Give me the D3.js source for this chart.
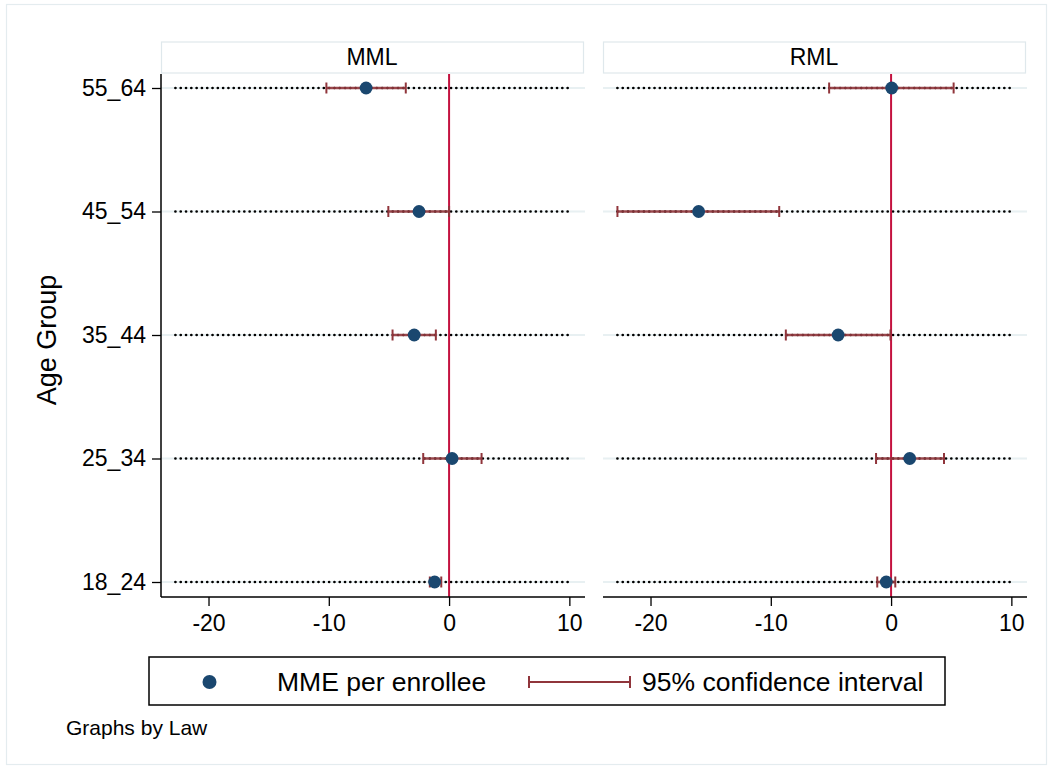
<!DOCTYPE html>
<html>
<head>
<meta charset="utf-8">
<script src="https://cdn.jsdelivr.net/npm/d3@7"></script>
<style>
  body { margin: 0; background: #fff; }
  text { font-family: "Liberation Sans", Arial, sans-serif; fill: #000; }
</style>
</head>
<body>
<svg id="chart" width="1052" height="769"></svg>
<script>
const panels = ["MML", "RML"];
const ageGroups = ["18_24", "25_34", "35_44", "45_54", "55_64"];

// estimates per age group (order of ageGroups)
const mmlEst = [-1.2, 0.25, -2.9, -2.5, -6.9];
const mmlLow = [-1.6, -2.15, -4.7, -5.05, -10.2];
const mmlHigh = [-0.65, 2.7, -1.1, 0.0, -3.6];

const rmlEst = [-0.4, 1.55, -4.4, -16.0, 0.05];
const rmlLow = [-1.15, -1.25, -8.75, -22.75, -5.15];
const rmlHigh = [0.35, 4.4, -0.05, -9.3, 5.2];

const xTicks = [-20, -10, 0, 10];
const xDomain = [-23.95, 11.3];
const dotExtent = [-22.75, 9.9];

const panelData = {
    MML: ageGroups.map((g, i) => ({ g, est: mmlEst[i], lo: mmlLow[i], hi: mmlHigh[i] })),
    RML: ageGroups.map((g, i) => ({ g, est: rmlEst[i], lo: rmlLow[i], hi: rmlHigh[i] }))
};

const navy = "#1a476f";
const maroon = "#90353b";
const refRed = "#c4123f";
const fontFam = "'Liberation Sans', Arial, sans-serif";

const svg = d3.select("#chart");

// outer frame
svg.append("rect")
    .attr("x", 6.5).attr("y", 4.5)
    .attr("width", 1040).attr("height", 760)
    .attr("fill", "none")
    .attr("stroke", "#e4ecef")
    .attr("stroke-width", 1.2);

const plotTop = 74;
const plotBottom = 597;
const panelLeft = { MML: 161, RML: 603 };
const panelW = 424;

const yScale = d3.scalePoint()
    .domain(ageGroups)
    .range([582, 88]);

panels.forEach(p => {
    const x0 = panelLeft[p];
    const xScale = d3.scaleLinear().domain(xDomain).range([x0, x0 + panelW]);
    const g = svg.append("g");

    // header strip
    g.append("rect")
        .attr("x", x0 + 0.5).attr("y", 42)
        .attr("width", panelW - 2).attr("height", 31)
        .attr("fill", "#fff")
        .attr("stroke", "#dfe8ec")
        .attr("stroke-width", 1.2);
    g.append("text")
        .attr("x", x0 + panelW / 2 - 1)
        .attr("y", 65)
        .attr("text-anchor", "middle")
        .style("font-size", "23px")
        .text(p);

    // light grid lines
    g.selectAll(".grid")
        .data(ageGroups)
        .enter()
        .append("line")
        .attr("x1", x0).attr("x2", x0 + panelW)
        .attr("y1", d => yScale(d)).attr("y2", d => yScale(d))
        .attr("stroke", "#e8f0f2")
        .attr("stroke-width", 2);

    // dotted lines
    g.selectAll(".dots")
        .data(ageGroups)
        .enter()
        .append("line")
        .attr("x1", xScale(dotExtent[0])).attr("x2", xScale(dotExtent[1]))
        .attr("y1", d => yScale(d)).attr("y2", d => yScale(d))
        .attr("stroke", "#000")
        .attr("stroke-width", 2.7)
        .attr("stroke-linecap", "round")
        .attr("stroke-dasharray", "0,5.3");

    // reference line at 0
    g.append("line")
        .attr("x1", xScale(0)).attr("x2", xScale(0))
        .attr("y1", plotTop).attr("y2", plotBottom)
        .attr("stroke", refRed)
        .attr("stroke-width", 2);

    const rows = panelData[p];

    // CI bars
    g.selectAll(".ci")
        .data(rows)
        .enter()
        .append("line")
        .attr("x1", d => xScale(d.lo)).attr("x2", d => xScale(d.hi))
        .attr("y1", d => yScale(d.g)).attr("y2", d => yScale(d.g))
        .attr("stroke", maroon)
        .attr("stroke-opacity", 0.9)
        .attr("stroke-width", 2.6);
    ["lo", "hi"].forEach(k => {
        g.selectAll(".cap-" + k)
            .data(rows)
            .enter()
            .append("line")
            .attr("x1", d => xScale(d[k])).attr("x2", d => xScale(d[k]))
            .attr("y1", d => yScale(d.g) - 5.5).attr("y2", d => yScale(d.g) + 5.5)
            .attr("stroke", maroon)
            .attr("stroke-width", 2);
    });

    // points
    g.selectAll(".pt")
        .data(rows)
        .enter()
        .append("circle")
        .attr("cx", d => xScale(d.est))
        .attr("cy", d => yScale(d.g))
        .attr("r", 6.4)
        .attr("fill", navy);

    // x axis (plain hyphen for negatives)
    const xAxis = d3.axisBottom(xScale)
        .tickValues(xTicks)
        .tickSize(9)
        .tickPadding(9)
        .tickFormat(d => String(d));
    const ax = g.append("g")
        .attr("transform", `translate(0, ${plotBottom})`)
        .call(xAxis);
    ax.select(".domain").attr("stroke", "#000").attr("stroke-width", 1.5)
        .attr("d", `M${x0},0H${x0 + panelW}`);
    ax.selectAll(".tick line").attr("stroke", "#000").attr("stroke-width", 1.3);
    ax.selectAll("text")
        .style("font-size", "23px")
        .style("font-family", fontFam);

    // y axis only on first panel
    if (p === "MML") {
        const yAxis = d3.axisLeft(yScale).tickSize(9).tickPadding(6);
        const ay = g.append("g")
            .attr("transform", `translate(${x0}, 0)`)
            .call(yAxis);
        ay.select(".domain").attr("stroke", "#000").attr("stroke-width", 1.5)
            .attr("d", `M0,${plotTop}V${plotBottom}`);
        ay.selectAll(".tick line").attr("stroke", "#000").attr("stroke-width", 1.3);
        ay.selectAll("text")
            .style("font-size", "23px")
            .style("font-family", fontFam);
    }
});

// y title
svg.append("text")
    .attr("transform", "rotate(-90)")
    .attr("x", -340)
    .attr("y", 56)
    .attr("text-anchor", "middle")
    .style("font-size", "27px")
    .text("Age Group");

// legend
const lg = svg.append("g");
lg.append("rect")
    .attr("x", 149).attr("y", 657)
    .attr("width", 796).attr("height", 48)
    .attr("fill", "#fff")
    .attr("stroke", "#000")
    .attr("stroke-width", 1.5);
lg.append("circle")
    .attr("cx", 209.5).attr("cy", 682).attr("r", 7)
    .attr("fill", navy);
lg.append("text")
    .attr("x", 277).attr("y", 691)
    .style("font-size", "26.5px")
    .text("MME per enrollee");
lg.append("line")
    .attr("x1", 529).attr("x2", 630).attr("y1", 682).attr("y2", 682)
    .attr("stroke", maroon).attr("stroke-width", 2);
[529, 630].forEach(cx => {
    lg.append("line")
        .attr("x1", cx).attr("x2", cx).attr("y1", 676).attr("y2", 688)
        .attr("stroke", maroon).attr("stroke-width", 2);
});
lg.append("text")
    .attr("x", 642).attr("y", 691)
    .style("font-size", "26.5px")
    .text("95% confidence interval");

svg.append("text")
    .attr("x", 66).attr("y", 735)
    .style("font-size", "21px")
    .text("Graphs by Law");
</script>
</body>
</html>
